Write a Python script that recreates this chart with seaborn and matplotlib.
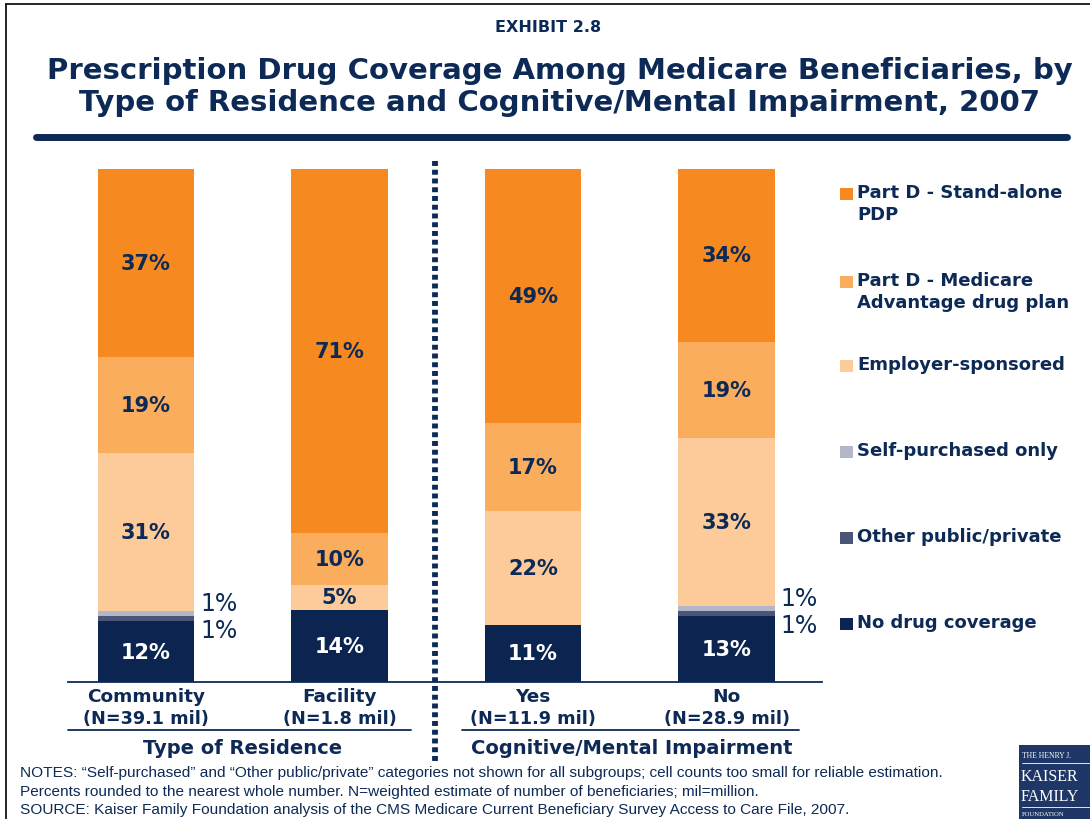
import numpy as np
import pandas as pd
import matplotlib
matplotlib.use("Agg")
import matplotlib.pyplot as plt
import seaborn as sns
from matplotlib.patches import Rectangle
from matplotlib.lines import Line2D

# ---------------- data ----------------
categories = ["Community", "Facility", "Yes", "No"]
n_labels = ["(N=39.1 mil)", "(N=1.8 mil)", "(N=11.9 mil)", "(N=28.9 mil)"]
group_labels = ["Type of Residence", "Cognitive/Mental Impairment"]
series = ["Part D - Stand-alone\nPDP", "Part D - Medicare\nAdvantage drug plan",
          "Employer-sponsored", "Self-purchased only", "Other public/private",
          "No drug coverage"]
pdp = [37, 71, 49, 34]
ma = [19, 10, 17, 19]
employer = [31, 5, 22, 33]
self_purchased = [1, 0, 0, 1]
other = [1, 0, 0, 1]
no_cov = [12, 14, 11, 13]

colors = ["#F6891F", "#FAAD5C", "#FDCB9A", "#B4B6CA", "#4A5577", "#0B2550"]
NAVY = "#0D2A56"

sns.set_theme(style="white")
plt.rcParams['font.family'] = ['DejaVu Sans']

W, H = 1090, 820
fig = plt.figure(figsize=(W / 100, H / 100), dpi=100)

def fx(px):
    return px / W

def fy(py):
    return 1 - py / H

ax = fig.add_axes([fx(68), fy(683), fx(822) - fx(68), fy(170) - fy(683)])

# stacking (bottom -> top)
stack = [no_cov, other, self_purchased, employer, ma, pdp]
stack_colors = [colors[5], colors[4], colors[3], colors[2], colors[1], colors[0]]
arr = np.array(stack, dtype=float)
totals = arr.sum(axis=0)
norm = arr / totals * 100
cum = np.cumsum(norm, axis=0)

df = pd.DataFrame({"cat": categories})
for k in range(len(stack) - 1, -1, -1):
    df["v"] = cum[k]
    sns.barplot(data=df, x="cat", y="v", order=categories, color=stack_colors[k],
                saturation=1, width=0.5, errorbar=None, linewidth=0, ax=ax)

ax.set_xlim(-0.403, 3.494)
ax.set_ylim(0, 100)
ax.set_xticks([])
ax.set_yticks([])
ax.set_xlabel("")
ax.set_ylabel("")
for s in ["top", "right", "left"]:
    ax.spines[s].set_visible(False)
ax.spines["bottom"].set_color(NAVY)
ax.spines["bottom"].set_linewidth(1.3)

# segment labels
for k in range(len(stack)):
    lo = cum[k - 1] if k > 0 else np.zeros(len(categories))
    for i in range(len(categories)):
        v = stack[k][i]
        if v <= 0:
            continue
        mid = (lo[i] + cum[k][i]) / 2
        if v >= 5:
            ax.text(i, mid, f"{v}%", ha="center", va="center", fontsize=15,
                    fontweight="bold", color="white" if k == 0 else NAVY)
        else:
            off = 2.1 if k == 2 else -2.3
            ax.text(i + 0.28, mid + off, f"{v}%", ha="left", va="center",
                    fontsize=17, color=NAVY)

# category labels
for i, (c, n) in enumerate(zip(categories, n_labels)):
    xpx = 146 + i * 193.5
    fig.text(fx(xpx), fy(697), c, ha="center", va="center", fontsize=13.3,
             fontweight="bold", color=NAVY)
    fig.text(fx(xpx), fy(719), n, ha="center", va="center", fontsize=12.7,
             fontweight="bold", color=NAVY)

# group underlines and labels
fig.add_artist(Line2D([fx(68), fx(411)], [fy(731), fy(731)], color=NAVY, lw=1.3))
fig.add_artist(Line2D([fx(462), fx(799)], [fy(731), fy(731)], color=NAVY, lw=1.3))
fig.text(fx(243), fy(749), group_labels[0], ha="center", va="center",
         fontsize=14, fontweight="bold", color=NAVY)
fig.text(fx(632), fy(749), group_labels[1], ha="center", va="center",
         fontsize=14, fontweight="bold", color=NAVY)

# dotted divider
fig.add_artist(Line2D([fx(435), fx(435)], [fy(162), fy(765)], color=NAVY,
                      lw=4.2, linestyle=(0, (0.85, 0.65))))

# legend (manual)
leg_y = [195, 283, 367, 453, 539, 625]
for lab, col, y in zip(series, colors, leg_y):
    fig.add_artist(Rectangle((fx(840), fy(y + 6)), fx(12.5), 12.5 / H,
                             facecolor=col, edgecolor="none"))
    fig.text(fx(857), fy(y - 11), lab, ha="left", va="top", fontsize=13,
             fontweight="bold", color=NAVY, linespacing=1.25)

# title
fig.text(fx(548), fy(28), "EXHIBIT 2.8", ha="center", va="center",
         fontsize=11.5, fontweight="bold", color=NAVY)
fig.text(fx(560), fy(87), "Prescription Drug Coverage Among Medicare Beneficiaries, by\n"
         "Type of Residence and Cognitive/Mental Impairment, 2007",
         ha="center", va="center", fontsize=21, fontweight="bold", color=NAVY,
         linespacing=1.22)
fig.add_artist(Line2D([fx(36), fx(1067)], [fy(138), fy(138)], color=NAVY,
                      lw=5, solid_capstyle="round"))

# notes
notes = [
    "NOTES: \u201cSelf-purchased\u201d and \u201cOther public/private\u201d categories not shown for all subgroups; cell counts too small for reliable estimation.",
    "Percents rounded to the nearest whole number. N=weighted estimate of number of beneficiaries; mil=million.",
    "SOURCE: Kaiser Family Foundation analysis of the CMS Medicare Current Beneficiary Survey Access to Care File, 2007.",
]
for t, y in zip(notes, [773, 792, 810]):
    fig.text(fx(20), fy(y), t, ha="left", va="center", fontsize=11.1,
             family="Liberation Sans", color=NAVY)

# border (frame partly outside image)
fig.add_artist(Line2D([fx(6), fx(6)], [fy(5), 0], color="black", lw=1.2))
fig.add_artist(Line2D([fx(6), 1], [fy(5), fy(5)], color="black", lw=1.2))

# logo block
fig.add_artist(Rectangle((fx(1019), 0), fx(80), fy(746), facecolor="#1E3766",
                         edgecolor="none"))
fig.text(fx(1022), fy(756), "THE HENRY J.", ha="left", va="center", fontsize=5.5,
         family="Liberation Serif", color="white")
fig.add_artist(Line2D([fx(1022), 1], [fy(764), fy(764)], color="white", lw=0.6))
fig.text(fx(1021), fy(777), "KAISER", ha="left", va="center", fontsize=11.5,
         family="Liberation Serif", color="white")
fig.text(fx(1021), fy(797), "FAMILY", ha="left", va="center", fontsize=11.5,
         family="Liberation Serif", color="white")
fig.add_artist(Line2D([fx(1022), 1], [fy(808), fy(808)], color="white", lw=0.6))
fig.text(fx(1022), fy(815), "FOUNDATION", ha="left", va="center", fontsize=4.8,
         family="Liberation Serif", color="white")

fig.savefig("out.png", dpi=100, facecolor="white")
